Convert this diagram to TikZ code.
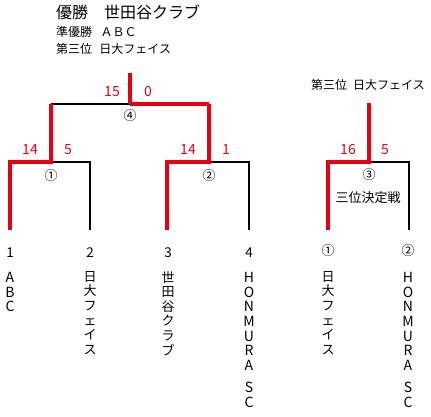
\documentclass[tikz,border=0pt]{standalone}
\usepackage{fontspec}
\setmainfont{Noto Sans CJK JP}
\definecolor{wred}{RGB}{230,0,18}
\begin{document}
\begin{tikzpicture}[x=1pt,y=-1pt,
  win/.style={draw=wred,line width=3.5pt,line join=miter},
  lose/.style={draw=black,line width=1.7pt,line join=miter},
  score/.style={text=wred,font=\fontsize{14}{14}\selectfont,inner sep=0},
  circnum/.style={font=\fontsize{13}{13}\selectfont,inner sep=0},
  seed/.style={font=\fontsize{13.5}{13.5}\selectfont,inner sep=0},
  vlat/.style={anchor=north,align=center,inner sep=0,font=\fontsize{14}{14.7}\selectfont},
  vjp/.style={anchor=north,align=center,inner sep=0,font=\fontsize{13}{14.6}\selectfont},
  head/.style={anchor=west,inner sep=0}]
\useasboundingbox (0,0) rectangle (431,416);
% header
\node[head,font=\fontsize{16}{16}\selectfont] (t1) at (56,12) {優勝\quad 世田谷クラブ};
\node[head,font=\fontsize{12}{12}\selectfont] (t2) at (56,32) {準優勝\hspace{0.7em}ＡＢＣ};
\node[head,font=\fontsize{12}{12}\selectfont] (t3) at (56,49) {第三位\hspace{0.6em}日大フェイス};
% coordinates
\coordinate (b1) at (10,230); \coordinate (b1t) at (10,162);
\coordinate (m1) at (51,162); \coordinate (m1u) at (51,104);
\coordinate (b2t) at (90,162); \coordinate (b2) at (90,230);
\coordinate (b3) at (167,230); \coordinate (b3t) at (167,162);
\coordinate (m2) at (209,162); \coordinate (m2u) at (209,104);
\coordinate (b4t) at (249,162); \coordinate (b4) at (249,230);
\coordinate (m4) at (130,104); \coordinate (m4u) at (130,73);
\coordinate (c1) at (328,230); \coordinate (c1t) at (328,162);
\coordinate (m3) at (369,162); \coordinate (m3u) at (369,103);
\coordinate (c2t) at (409,162); \coordinate (c2) at (409,230);
% brackets
\draw[lose] (m1) -- (b2t) -- (b2);
\draw[lose] (m2) -- (b4t) -- (b4);
\draw[lose] (m1u) -- (m4);
\draw[lose] (m3) -- (c2t) -- (c2);
\draw[win] (b1) -- (b1t) -- (m1) -- (m1u);
\draw[win] (b3) -- (b3t) -- (m2) -- (m2u);
\draw[win] (m2u) -- (m4);
\draw[win] (m4) -- (m4u);
\draw[win] (c1) -- (c1t) -- (m3) -- (m3u);
% scores
\node[score] (s1a) at (30,150) {14};
\node[score] (s1b) at (68,150) {5};
\node[score] (s2a) at (188,150) {14};
\node[score] (s2b) at (226,150) {1};
\node[score] (s4a) at (112,92) {15};
\node[score] (s4b) at (148,92) {0};
\node[score] (s3a) at (348,150) {16};
\node[score] (s3b) at (385,150) {5};
% match numbers
\node[circnum] (n1) at (51,176) {①};
\node[circnum] (n2) at (209,176) {②};
\node[circnum] (n4) at (130,116) {④};
\node[circnum] (n3) at (369,175) {③};
\node[font=\fontsize{13}{13}\selectfont,inner sep=0] (tp) at (368,198) {三位決定戦};
\node[font=\fontsize{12}{12}\selectfont,inner sep=0] (tr) at (368,85) {第三位\hspace{0.5em}日大フェイス};
% seeds
\node[seed] (e1) at (10,253) {1};
\node[seed] (e2) at (90,253) {2};
\node[seed] (e3) at (168,253) {3};
\node[seed] (e4) at (249,253) {4};
\node[circnum] (e5) at (328,251) {①};
\node[circnum] (e6) at (408,251) {②};
% team names
\node[vlat] (w1) at (10,272) {A\\B\\C};
\node[vjp] (w2) at (90,271) {日\\大\\フ\\ェ\\イ\\ス};
\node[vjp] (w3) at (168,271) {世\\田\\谷\\ク\\ラ\\ブ};
\node[vlat] (w4) at (249,272) {H\\O\\N\\M\\U\\R\\A\\[7.5pt]S\\C};
\node[vjp] (w5) at (328,271) {日\\大\\フ\\ェ\\イ\\ス};
\node[vlat] (w6) at (408,272) {H\\O\\N\\M\\U\\R\\A\\[7.5pt]S\\C};
\end{tikzpicture}
\end{document}
